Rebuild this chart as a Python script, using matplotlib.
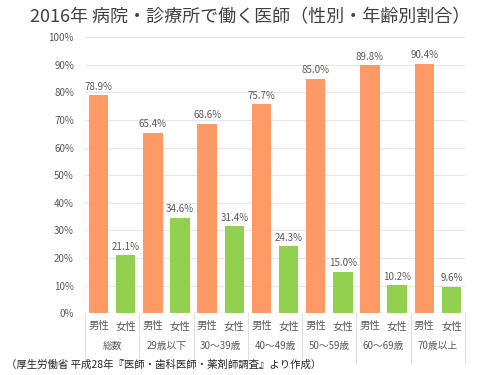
import numpy as np
import matplotlib.pyplot as plt

plt.rcParams['font.family'] = ['Noto Sans CJK JP', 'DejaVu Sans']

groups = ['総数', '29歳以下', '30～39歳', '40～49歳', '50～59歳', '60～69歳', '70歳以上']
sexes = ['男性', '女性']
male = [78.9, 65.4, 68.6, 75.7, 85.0, 89.8, 90.4]
female = [21.1, 34.6, 31.4, 24.3, 15.0, 10.2, 9.6]
yticks = [0, 10, 20, 30, 40, 50, 60, 70, 80, 90, 100]

orange = '#FF9966'
green = '#92D050'
gray = '#595959'

fig = plt.figure(figsize=(5, 3.75), dpi=100)
ax = fig.add_axes([0.17, 0.165, 0.76, 0.736])

n = len(groups)
xm = np.arange(n) * 2
xf = xm + 1
w = 0.72
bm = ax.bar(xm, male, width=w, color=orange, zorder=3)
bf = ax.bar(xf, female, width=w, color=green, zorder=3)

for bars, vals in [(bm, male), (bf, female)]:
    for b, v in zip(bars, vals):
        ax.text(b.get_x() + b.get_width() / 2, v + 1.2, f'{v:.1f}%',
                ha='center', va='bottom', fontsize=7, color=gray)

ax.set_xlim(-0.5, 2 * n - 0.5)
ax.set_ylim(0, 100)
ax.set_yticks(yticks)
ax.set_yticklabels([f'{t}%' for t in yticks])
ax.tick_params(axis='y', length=0, labelsize=7, labelcolor=gray, pad=8)
ax.set_xticks([])
ax.grid(axis='y', color='#E6E6E6', linewidth=0.8, zorder=0)
for s in ax.spines.values():
    s.set_visible(False)
ax.axhline(0, color='#D9D9D9', linewidth=0.8, zorder=4)

# two-level category axis
trans = ax.get_xaxis_transform()
for i in range(n):
    ax.text(xm[i], -0.048, sexes[0], transform=trans, ha='center', va='center',
            fontsize=7.5, color=gray)
    ax.text(xf[i], -0.048, sexes[1], transform=trans, ha='center', va='center',
            fontsize=7.5, color=gray)
    ax.text(xm[i] + 0.5, -0.12, groups[i], transform=trans, ha='center', va='center',
            fontsize=7, color=gray)
for k in range(n + 1):
    ax.plot([2 * k - 0.5, 2 * k - 0.5], [0, -0.18], transform=trans,
            color='#E0E0E0', linewidth=0.8, clip_on=False)

fig.text(0.5, 0.955, '2016年 病院・診療所で働く医師（性別・年齢別割合）',
         ha='center', va='center', fontsize=13, color='#404040')
fig.text(0.012, 0.027, '（厚生労働省 平成28年『医師・歯科医師・薬剤師調査』より作成）',
         ha='left', va='center', fontsize=7.5, color='#262626')

fig.savefig('out.png', dpi=100)
